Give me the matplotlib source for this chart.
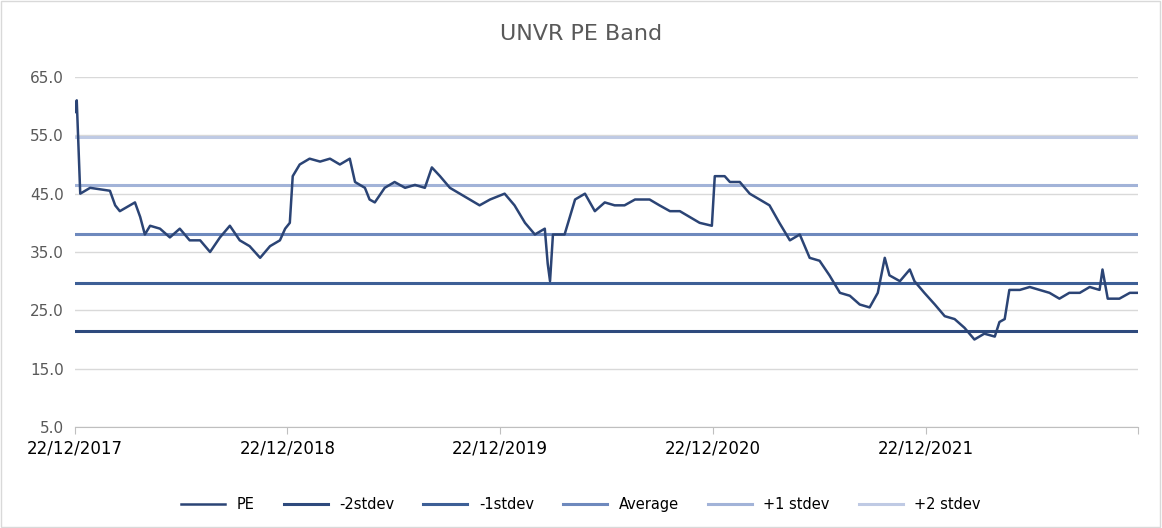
import pandas as pd
import matplotlib
matplotlib.use('Agg')
import matplotlib.pyplot as plt

# PE series
pe_dates = ["2017-12-22", "2017-12-25", "2017-12-31", "2018-01-17", "2018-02-20", "2018-03-01",
            "2018-03-09", "2018-04-04", "2018-04-13", "2018-04-21", "2018-04-30", "2018-05-17",
            "2018-06-03", "2018-06-20", "2018-07-07", "2018-07-25", "2018-08-11", "2018-08-28",
            "2018-09-14", "2018-10-01", "2018-10-18", "2018-11-05", "2018-11-22", "2018-12-09",
            "2018-12-18", "2018-12-26", "2018-12-31", "2019-01-12", "2019-01-29", "2019-02-16",
            "2019-03-05", "2019-03-22", "2019-04-08", "2019-04-17", "2019-05-04", "2019-05-12",
            "2019-05-21", "2019-06-07", "2019-06-24", "2019-07-12", "2019-07-29", "2019-08-15",
            "2019-08-27", "2019-09-10", "2019-09-27", "2019-10-14", "2019-10-31", "2019-11-17",
            "2019-12-05", "2019-12-30", "2020-01-16", "2020-02-03", "2020-02-20", "2020-03-08",
            "2020-03-13", "2020-03-17", "2020-03-22", "2020-04-11", "2020-04-29", "2020-05-16",
            "2020-06-02", "2020-06-19", "2020-07-06", "2020-07-23", "2020-08-10", "2020-09-04",
            "2020-09-21", "2020-10-09", "2020-10-26", "2020-11-12", "2020-11-29", "2020-12-20",
            "2020-12-25", "2021-01-11", "2021-01-20", "2021-02-06", "2021-02-23", "2021-03-12",
            "2021-03-29", "2021-04-15", "2021-05-03", "2021-05-20", "2021-06-06", "2021-06-23",
            "2021-07-10", "2021-07-28", "2021-08-14", "2021-08-31", "2021-09-17", "2021-10-01",
            "2021-10-13", "2021-10-21", "2021-11-08", "2021-11-25", "2021-12-03", "2021-12-20",
            "2022-01-07", "2022-01-24", "2022-02-10", "2022-02-27", "2022-03-16", "2022-04-02",
            "2022-04-20", "2022-04-28", "2022-05-07", "2022-05-15", "2022-06-02", "2022-06-19",
            "2022-07-06", "2022-07-23", "2022-08-09", "2022-08-26", "2022-09-13", "2022-09-30",
            "2022-10-17", "2022-10-22", "2022-10-31", "2022-11-20", "2022-12-08", "2022-12-21"]
pe_values = [59, 61, 45, 46, 45.5, 43,
             42, 43.5, 41, 38, 39.5, 39,
             37.5, 39, 37, 37, 35, 37.5,
             39.5, 37, 36, 34, 36, 37,
             39, 40, 48, 50, 51, 50.5,
             51, 50, 51, 47, 46, 44,
             43.5, 46, 47, 46, 46.5, 46,
             49.5, 48, 46, 45, 44, 43,
             44, 45, 43, 40, 38, 39,
             33, 30, 38, 38, 44, 45,
             42, 43.5, 43, 43, 44, 44,
             43, 42, 42, 41, 40, 39.5,
             48, 48, 47, 47, 45, 44,
             43, 40, 37, 38, 34, 33.5,
             31, 28, 27.5, 26, 25.5, 28,
             34, 31, 30, 32, 30, 28,
             26, 24, 23.5, 22, 20, 21,
             20.5, 23, 23.5, 28.5, 28.5, 29,
             28.5, 28, 27, 28, 28, 29,
             28.5, 32, 27, 27, 28, 28]

band_names = ["-2stdev", "-1stdev", "Average", "+1 stdev", "+2 stdev"]
band_values = [21.5, 29.7, 38.1, 46.5, 54.7]
band_colors = ["#2E4A7D", "#3D5F96", "#6E89BD", "#A2B3D8", "#BFCAE4"]
pe_color = "#2B4475"

tick_dates = ["2017-12-22", "2018-12-22", "2019-12-22", "2020-12-22", "2021-12-22"]
x_start, x_end = "2017-12-22", "2022-12-22"

dates = pd.to_datetime(pe_dates)
fig = plt.figure(figsize=(11.62, 5.28), dpi=100)
ax = fig.add_axes([75 / 1162, 1 - 427 / 528, (1138 - 75) / 1162, 350 / 528])

ax.plot(dates, pe_values, color=pe_color, linewidth=1.8, label="PE", zorder=5)
for name, val, c in zip(band_names, band_values, band_colors):
    ax.axhline(val, color=c, linewidth=2.2, label=name, zorder=3)

ax.set_ylim(5, 65)
ax.set_yticks([5, 15, 25, 35, 45, 55, 65])
ax.yaxis.set_major_formatter(matplotlib.ticker.FormatStrFormatter('%.1f'))
ax.grid(axis='y', color='#D9D9D9', linewidth=1)
ax.set_axisbelow(True)
ax.set_xlim(pd.Timestamp(x_start), pd.Timestamp(x_end))
ax.set_xticks(list(pd.to_datetime(tick_dates)) + [pd.Timestamp(x_end)])
ax.set_xticklabels([pd.Timestamp(d).strftime('%d/%m/%Y') for d in tick_dates] + [""])
for s in ['top', 'right', 'left']:
    ax.spines[s].set_visible(False)
ax.spines['bottom'].set_color('#BFBFBF')
ax.tick_params(axis='y', length=0, labelsize=11, colors='#595959', pad=8)
ax.tick_params(axis='x', length=5, color='#BFBFBF', labelsize=12, pad=4)

fig.suptitle("UNVR PE Band", y=0.955, fontsize=16, color='#595959')
fig.legend(loc='lower center', ncol=6, frameon=False, fontsize=10.5,
           bbox_to_anchor=(0.5, 0.005), handlelength=3, columnspacing=2)
fig.patches.append(plt.Rectangle((0.001, 0.001), 0.997, 0.997, transform=fig.transFigure,
                                 fill=False, edgecolor='#D9D9D9', linewidth=1))
fig.savefig('out.png', dpi=100)
